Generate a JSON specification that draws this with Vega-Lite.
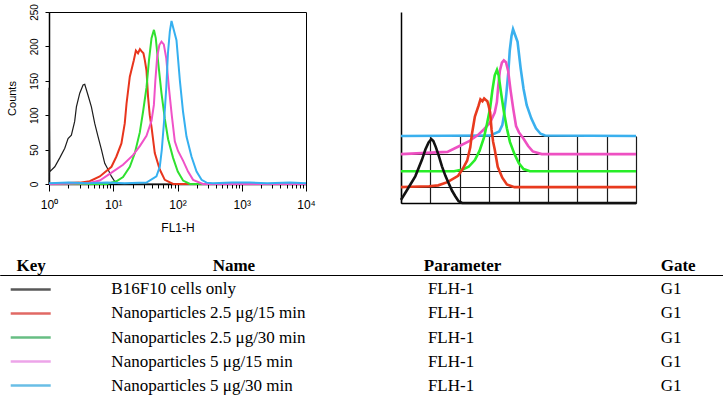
{
  "$schema": "https://vega.github.io/schema/vega-lite/v6.json",
  "background": "white",
  "padding": {"left": 5, "top": 3, "right": 0, "bottom": 0},
  "config": {
    "view": {"stroke": null},
    "axis": {"labelFont": "Liberation Sans", "titleFont": "Liberation Sans", "labelColor": "black", "titleColor": "black", "domainColor": "black", "tickColor": "black", "titleFontWeight": "normal", "grid": false}
  },
  "datasets": {
    "flow": [
      {"series": "B16F10 cells only", "fl1h": 1, "counts": 0},
      {"series": "B16F10 cells only", "fl1h": 1.002, "counts": 140},
      {"series": "B16F10 cells only", "fl1h": 1.03, "counts": 18},
      {"series": "B16F10 cells only", "fl1h": 1.23, "counts": 25},
      {"series": "B16F10 cells only", "fl1h": 1.47, "counts": 38},
      {"series": "B16F10 cells only", "fl1h": 1.76, "counts": 52},
      {"series": "B16F10 cells only", "fl1h": 1.98, "counts": 66},
      {"series": "B16F10 cells only", "fl1h": 2.23, "counts": 71},
      {"series": "B16F10 cells only", "fl1h": 2.51, "counts": 91},
      {"series": "B16F10 cells only", "fl1h": 2.67, "counts": 112},
      {"series": "B16F10 cells only", "fl1h": 3.01, "counts": 132},
      {"series": "B16F10 cells only", "fl1h": 3.39, "counts": 144},
      {"series": "B16F10 cells only", "fl1h": 3.6, "counts": 145},
      {"series": "B16F10 cells only", "fl1h": 4.05, "counts": 129},
      {"series": "B16F10 cells only", "fl1h": 4.57, "counts": 112},
      {"series": "B16F10 cells only", "fl1h": 5.15, "counts": 88},
      {"series": "B16F10 cells only", "fl1h": 5.8, "counts": 69},
      {"series": "B16F10 cells only", "fl1h": 6.55, "counts": 50},
      {"series": "B16F10 cells only", "fl1h": 7.37, "counts": 30},
      {"series": "B16F10 cells only", "fl1h": 8.3, "counts": 21},
      {"series": "B16F10 cells only", "fl1h": 9.38, "counts": 11},
      {"series": "B16F10 cells only", "fl1h": 10.5, "counts": 4},
      {"series": "B16F10 cells only", "fl1h": 11.9, "counts": 0},
      {"series": "B16F10 cells only", "fl1h": 10000, "counts": 0},

      {"series": "Nanoparticles 2.5 μg/15 min", "fl1h": 1, "counts": 0},
      {"series": "Nanoparticles 2.5 μg/15 min", "fl1h": 1.47, "counts": 1},
      {"series": "Nanoparticles 2.5 μg/15 min", "fl1h": 3, "counts": 2},
      {"series": "Nanoparticles 2.5 μg/15 min", "fl1h": 4.3, "counts": 4},
      {"series": "Nanoparticles 2.5 μg/15 min", "fl1h": 6.17, "counts": 11},
      {"series": "Nanoparticles 2.5 μg/15 min", "fl1h": 9.38, "counts": 25},
      {"series": "Nanoparticles 2.5 μg/15 min", "fl1h": 11.2, "counts": 40},
      {"series": "Nanoparticles 2.5 μg/15 min", "fl1h": 13.4, "counts": 59},
      {"series": "Nanoparticles 2.5 μg/15 min", "fl1h": 15.1, "counts": 88},
      {"series": "Nanoparticles 2.5 μg/15 min", "fl1h": 16.1, "counts": 117},
      {"series": "Nanoparticles 2.5 μg/15 min", "fl1h": 18.1, "counts": 156},
      {"series": "Nanoparticles 2.5 μg/15 min", "fl1h": 20.9, "counts": 180},
      {"series": "Nanoparticles 2.5 μg/15 min", "fl1h": 22.5, "counts": 194},
      {"series": "Nanoparticles 2.5 μg/15 min", "fl1h": 24.3, "counts": 190},
      {"series": "Nanoparticles 2.5 μg/15 min", "fl1h": 26, "counts": 196},
      {"series": "Nanoparticles 2.5 μg/15 min", "fl1h": 27.5, "counts": 193},
      {"series": "Nanoparticles 2.5 μg/15 min", "fl1h": 29.5, "counts": 190},
      {"series": "Nanoparticles 2.5 μg/15 min", "fl1h": 31, "counts": 180},
      {"series": "Nanoparticles 2.5 μg/15 min", "fl1h": 32.9, "counts": 165},
      {"series": "Nanoparticles 2.5 μg/15 min", "fl1h": 34.8, "counts": 127},
      {"series": "Nanoparticles 2.5 μg/15 min", "fl1h": 37, "counts": 100},
      {"series": "Nanoparticles 2.5 μg/15 min", "fl1h": 39.4, "counts": 83},
      {"series": "Nanoparticles 2.5 μg/15 min", "fl1h": 44.3, "counts": 45},
      {"series": "Nanoparticles 2.5 μg/15 min", "fl1h": 53, "counts": 21},
      {"series": "Nanoparticles 2.5 μg/15 min", "fl1h": 63.4, "counts": 6},
      {"series": "Nanoparticles 2.5 μg/15 min", "fl1h": 85.4, "counts": 0},
      {"series": "Nanoparticles 2.5 μg/15 min", "fl1h": 10000, "counts": 0},

      {"series": "Nanoparticles 2.5 μg/30 min", "fl1h": 1, "counts": 0},
      {"series": "Nanoparticles 2.5 μg/30 min", "fl1h": 8, "counts": 0},
      {"series": "Nanoparticles 2.5 μg/30 min", "fl1h": 11.2, "counts": 4},
      {"series": "Nanoparticles 2.5 μg/30 min", "fl1h": 14.2, "counts": 10},
      {"series": "Nanoparticles 2.5 μg/30 min", "fl1h": 18.1, "counts": 25},
      {"series": "Nanoparticles 2.5 μg/30 min", "fl1h": 21.7, "counts": 45},
      {"series": "Nanoparticles 2.5 μg/30 min", "fl1h": 25.9, "counts": 75},
      {"series": "Nanoparticles 2.5 μg/30 min", "fl1h": 29.1, "counts": 105},
      {"series": "Nanoparticles 2.5 μg/30 min", "fl1h": 32.9, "counts": 140},
      {"series": "Nanoparticles 2.5 μg/30 min", "fl1h": 36, "counts": 180},
      {"series": "Nanoparticles 2.5 μg/30 min", "fl1h": 39.4, "counts": 212},
      {"series": "Nanoparticles 2.5 μg/30 min", "fl1h": 43, "counts": 224},
      {"series": "Nanoparticles 2.5 μg/30 min", "fl1h": 45.9, "counts": 212},
      {"series": "Nanoparticles 2.5 μg/30 min", "fl1h": 49.9, "counts": 178},
      {"series": "Nanoparticles 2.5 μg/30 min", "fl1h": 56.3, "counts": 132},
      {"series": "Nanoparticles 2.5 μg/30 min", "fl1h": 63.4, "counts": 95},
      {"series": "Nanoparticles 2.5 μg/30 min", "fl1h": 71.4, "counts": 65},
      {"series": "Nanoparticles 2.5 μg/30 min", "fl1h": 85.4, "counts": 38},
      {"series": "Nanoparticles 2.5 μg/30 min", "fl1h": 101, "counts": 18},
      {"series": "Nanoparticles 2.5 μg/30 min", "fl1h": 122, "counts": 5},
      {"series": "Nanoparticles 2.5 μg/30 min", "fl1h": 156, "counts": 0},
      {"series": "Nanoparticles 2.5 μg/30 min", "fl1h": 10000, "counts": 0},

      {"series": "Nanoparticles 5 μg/15 min", "fl1h": 1, "counts": 0},
      {"series": "Nanoparticles 5 μg/15 min", "fl1h": 4, "counts": 1},
      {"series": "Nanoparticles 5 μg/15 min", "fl1h": 6.17, "counts": 5},
      {"series": "Nanoparticles 5 μg/15 min", "fl1h": 9.9, "counts": 18},
      {"series": "Nanoparticles 5 μg/15 min", "fl1h": 14.2, "counts": 28},
      {"series": "Nanoparticles 5 μg/15 min", "fl1h": 20.3, "counts": 42},
      {"series": "Nanoparticles 5 μg/15 min", "fl1h": 25.9, "counts": 55},
      {"series": "Nanoparticles 5 μg/15 min", "fl1h": 32.9, "counts": 70},
      {"series": "Nanoparticles 5 μg/15 min", "fl1h": 39.4, "counts": 92},
      {"series": "Nanoparticles 5 μg/15 min", "fl1h": 42.9, "counts": 115},
      {"series": "Nanoparticles 5 μg/15 min", "fl1h": 45.2, "counts": 150},
      {"series": "Nanoparticles 5 μg/15 min", "fl1h": 48.3, "counts": 185},
      {"series": "Nanoparticles 5 μg/15 min", "fl1h": 52.2, "counts": 202},
      {"series": "Nanoparticles 5 μg/15 min", "fl1h": 56.3, "counts": 207},
      {"series": "Nanoparticles 5 μg/15 min", "fl1h": 61.2, "counts": 203},
      {"series": "Nanoparticles 5 μg/15 min", "fl1h": 66.8, "counts": 183},
      {"series": "Nanoparticles 5 μg/15 min", "fl1h": 73.3, "counts": 141},
      {"series": "Nanoparticles 5 μg/15 min", "fl1h": 81.4, "counts": 100},
      {"series": "Nanoparticles 5 μg/15 min", "fl1h": 90.8, "counts": 62},
      {"series": "Nanoparticles 5 μg/15 min", "fl1h": 101.9, "counts": 48},
      {"series": "Nanoparticles 5 μg/15 min", "fl1h": 122, "counts": 34},
      {"series": "Nanoparticles 5 μg/15 min", "fl1h": 146, "counts": 18},
      {"series": "Nanoparticles 5 μg/15 min", "fl1h": 175, "counts": 6},
      {"series": "Nanoparticles 5 μg/15 min", "fl1h": 248, "counts": 0},
      {"series": "Nanoparticles 5 μg/15 min", "fl1h": 10000, "counts": 0},

      {"series": "Nanoparticles 5 μg/30 min", "fl1h": 1, "counts": 1},
      {"series": "Nanoparticles 5 μg/30 min", "fl1h": 2, "counts": 2},
      {"series": "Nanoparticles 5 μg/30 min", "fl1h": 4, "counts": 1},
      {"series": "Nanoparticles 5 μg/30 min", "fl1h": 8, "counts": 2},
      {"series": "Nanoparticles 5 μg/30 min", "fl1h": 15, "counts": 1},
      {"series": "Nanoparticles 5 μg/30 min", "fl1h": 32.9, "counts": 2},
      {"series": "Nanoparticles 5 μg/30 min", "fl1h": 47, "counts": 11},
      {"series": "Nanoparticles 5 μg/30 min", "fl1h": 53, "counts": 25},
      {"series": "Nanoparticles 5 μg/30 min", "fl1h": 57, "counts": 50},
      {"series": "Nanoparticles 5 μg/30 min", "fl1h": 62, "counts": 93},
      {"series": "Nanoparticles 5 μg/30 min", "fl1h": 67, "counts": 141},
      {"series": "Nanoparticles 5 μg/30 min", "fl1h": 71, "counts": 190},
      {"series": "Nanoparticles 5 μg/30 min", "fl1h": 76, "counts": 222},
      {"series": "Nanoparticles 5 μg/30 min", "fl1h": 80.7, "counts": 237},
      {"series": "Nanoparticles 5 μg/30 min", "fl1h": 85.4, "counts": 228},
      {"series": "Nanoparticles 5 μg/30 min", "fl1h": 96.4, "counts": 209},
      {"series": "Nanoparticles 5 μg/30 min", "fl1h": 109, "counts": 150},
      {"series": "Nanoparticles 5 μg/30 min", "fl1h": 122, "counts": 105},
      {"series": "Nanoparticles 5 μg/30 min", "fl1h": 138, "counts": 69},
      {"series": "Nanoparticles 5 μg/30 min", "fl1h": 165, "counts": 40},
      {"series": "Nanoparticles 5 μg/30 min", "fl1h": 198, "counts": 18},
      {"series": "Nanoparticles 5 μg/30 min", "fl1h": 237, "counts": 6},
      {"series": "Nanoparticles 5 μg/30 min", "fl1h": 283, "counts": 2},
      {"series": "Nanoparticles 5 μg/30 min", "fl1h": 355, "counts": 1},
      {"series": "Nanoparticles 5 μg/30 min", "fl1h": 700, "counts": 2},
      {"series": "Nanoparticles 5 μg/30 min", "fl1h": 1336, "counts": 2},
      {"series": "Nanoparticles 5 μg/30 min", "fl1h": 2500, "counts": 1},
      {"series": "Nanoparticles 5 μg/30 min", "fl1h": 5610, "counts": 2},
      {"series": "Nanoparticles 5 μg/30 min", "fl1h": 10000, "counts": 1}
    ],
    "overlay": [
      {"series": "Nanoparticles 5 μg/30 min", "fl1h": 1, "trace": 148},
      {"series": "Nanoparticles 5 μg/30 min", "fl1h": 32.9, "trace": 149},
      {"series": "Nanoparticles 5 μg/30 min", "fl1h": 47, "trace": 158},
      {"series": "Nanoparticles 5 μg/30 min", "fl1h": 53, "trace": 172},
      {"series": "Nanoparticles 5 μg/30 min", "fl1h": 57, "trace": 197},
      {"series": "Nanoparticles 5 μg/30 min", "fl1h": 62, "trace": 240},
      {"series": "Nanoparticles 5 μg/30 min", "fl1h": 67, "trace": 288},
      {"series": "Nanoparticles 5 μg/30 min", "fl1h": 71, "trace": 337},
      {"series": "Nanoparticles 5 μg/30 min", "fl1h": 76, "trace": 369},
      {"series": "Nanoparticles 5 μg/30 min", "fl1h": 80.7, "trace": 384},
      {"series": "Nanoparticles 5 μg/30 min", "fl1h": 85.4, "trace": 375},
      {"series": "Nanoparticles 5 μg/30 min", "fl1h": 96.4, "trace": 356},
      {"series": "Nanoparticles 5 μg/30 min", "fl1h": 109, "trace": 297},
      {"series": "Nanoparticles 5 μg/30 min", "fl1h": 122, "trace": 252},
      {"series": "Nanoparticles 5 μg/30 min", "fl1h": 138, "trace": 216},
      {"series": "Nanoparticles 5 μg/30 min", "fl1h": 165, "trace": 187},
      {"series": "Nanoparticles 5 μg/30 min", "fl1h": 198, "trace": 165},
      {"series": "Nanoparticles 5 μg/30 min", "fl1h": 237, "trace": 153},
      {"series": "Nanoparticles 5 μg/30 min", "fl1h": 283, "trace": 149},
      {"series": "Nanoparticles 5 μg/30 min", "fl1h": 10000, "trace": 148},

      {"series": "Nanoparticles 5 μg/15 min", "fl1h": 1, "trace": 108},
      {"series": "Nanoparticles 5 μg/15 min", "fl1h": 6.17, "trace": 113},
      {"series": "Nanoparticles 5 μg/15 min", "fl1h": 9.9, "trace": 126},
      {"series": "Nanoparticles 5 μg/15 min", "fl1h": 14.2, "trace": 136},
      {"series": "Nanoparticles 5 μg/15 min", "fl1h": 20.3, "trace": 150},
      {"series": "Nanoparticles 5 μg/15 min", "fl1h": 25.9, "trace": 163},
      {"series": "Nanoparticles 5 μg/15 min", "fl1h": 32.9, "trace": 178},
      {"series": "Nanoparticles 5 μg/15 min", "fl1h": 39.4, "trace": 200},
      {"series": "Nanoparticles 5 μg/15 min", "fl1h": 42.9, "trace": 223},
      {"series": "Nanoparticles 5 μg/15 min", "fl1h": 45.2, "trace": 258},
      {"series": "Nanoparticles 5 μg/15 min", "fl1h": 48.3, "trace": 293},
      {"series": "Nanoparticles 5 μg/15 min", "fl1h": 52.2, "trace": 310},
      {"series": "Nanoparticles 5 μg/15 min", "fl1h": 56.3, "trace": 315},
      {"series": "Nanoparticles 5 μg/15 min", "fl1h": 61.2, "trace": 311},
      {"series": "Nanoparticles 5 μg/15 min", "fl1h": 66.8, "trace": 291},
      {"series": "Nanoparticles 5 μg/15 min", "fl1h": 73.3, "trace": 249},
      {"series": "Nanoparticles 5 μg/15 min", "fl1h": 81.4, "trace": 208},
      {"series": "Nanoparticles 5 μg/15 min", "fl1h": 90.8, "trace": 170},
      {"series": "Nanoparticles 5 μg/15 min", "fl1h": 101.9, "trace": 156},
      {"series": "Nanoparticles 5 μg/15 min", "fl1h": 122, "trace": 142},
      {"series": "Nanoparticles 5 μg/15 min", "fl1h": 146, "trace": 126},
      {"series": "Nanoparticles 5 μg/15 min", "fl1h": 175, "trace": 114},
      {"series": "Nanoparticles 5 μg/15 min", "fl1h": 248, "trace": 108},
      {"series": "Nanoparticles 5 μg/15 min", "fl1h": 10000, "trace": 108},

      {"series": "Nanoparticles 2.5 μg/30 min", "fl1h": 1, "trace": 70},
      {"series": "Nanoparticles 2.5 μg/30 min", "fl1h": 8, "trace": 70},
      {"series": "Nanoparticles 2.5 μg/30 min", "fl1h": 11.2, "trace": 74},
      {"series": "Nanoparticles 2.5 μg/30 min", "fl1h": 14.2, "trace": 80},
      {"series": "Nanoparticles 2.5 μg/30 min", "fl1h": 18.1, "trace": 95},
      {"series": "Nanoparticles 2.5 μg/30 min", "fl1h": 21.7, "trace": 115},
      {"series": "Nanoparticles 2.5 μg/30 min", "fl1h": 25.9, "trace": 145},
      {"series": "Nanoparticles 2.5 μg/30 min", "fl1h": 29.1, "trace": 175},
      {"series": "Nanoparticles 2.5 μg/30 min", "fl1h": 32.9, "trace": 210},
      {"series": "Nanoparticles 2.5 μg/30 min", "fl1h": 36, "trace": 250},
      {"series": "Nanoparticles 2.5 μg/30 min", "fl1h": 39.4, "trace": 282},
      {"series": "Nanoparticles 2.5 μg/30 min", "fl1h": 43, "trace": 294},
      {"series": "Nanoparticles 2.5 μg/30 min", "fl1h": 45.9, "trace": 282},
      {"series": "Nanoparticles 2.5 μg/30 min", "fl1h": 49.9, "trace": 248},
      {"series": "Nanoparticles 2.5 μg/30 min", "fl1h": 56.3, "trace": 202},
      {"series": "Nanoparticles 2.5 μg/30 min", "fl1h": 63.4, "trace": 165},
      {"series": "Nanoparticles 2.5 μg/30 min", "fl1h": 71.4, "trace": 135},
      {"series": "Nanoparticles 2.5 μg/30 min", "fl1h": 85.4, "trace": 108},
      {"series": "Nanoparticles 2.5 μg/30 min", "fl1h": 101, "trace": 88},
      {"series": "Nanoparticles 2.5 μg/30 min", "fl1h": 122, "trace": 75},
      {"series": "Nanoparticles 2.5 μg/30 min", "fl1h": 156, "trace": 70},
      {"series": "Nanoparticles 2.5 μg/30 min", "fl1h": 10000, "trace": 70},

      {"series": "Nanoparticles 2.5 μg/15 min", "fl1h": 1, "trace": 35},
      {"series": "Nanoparticles 2.5 μg/15 min", "fl1h": 1.47, "trace": 36},
      {"series": "Nanoparticles 2.5 μg/15 min", "fl1h": 3, "trace": 37},
      {"series": "Nanoparticles 2.5 μg/15 min", "fl1h": 4.3, "trace": 39},
      {"series": "Nanoparticles 2.5 μg/15 min", "fl1h": 6.17, "trace": 46},
      {"series": "Nanoparticles 2.5 μg/15 min", "fl1h": 9.38, "trace": 60},
      {"series": "Nanoparticles 2.5 μg/15 min", "fl1h": 11.2, "trace": 75},
      {"series": "Nanoparticles 2.5 μg/15 min", "fl1h": 13.4, "trace": 94},
      {"series": "Nanoparticles 2.5 μg/15 min", "fl1h": 15.1, "trace": 123},
      {"series": "Nanoparticles 2.5 μg/15 min", "fl1h": 16.1, "trace": 152},
      {"series": "Nanoparticles 2.5 μg/15 min", "fl1h": 18.1, "trace": 191},
      {"series": "Nanoparticles 2.5 μg/15 min", "fl1h": 20.9, "trace": 215},
      {"series": "Nanoparticles 2.5 μg/15 min", "fl1h": 22.5, "trace": 229},
      {"series": "Nanoparticles 2.5 μg/15 min", "fl1h": 24.3, "trace": 225},
      {"series": "Nanoparticles 2.5 μg/15 min", "fl1h": 26, "trace": 231},
      {"series": "Nanoparticles 2.5 μg/15 min", "fl1h": 27.5, "trace": 228},
      {"series": "Nanoparticles 2.5 μg/15 min", "fl1h": 29.5, "trace": 225},
      {"series": "Nanoparticles 2.5 μg/15 min", "fl1h": 31, "trace": 215},
      {"series": "Nanoparticles 2.5 μg/15 min", "fl1h": 32.9, "trace": 200},
      {"series": "Nanoparticles 2.5 μg/15 min", "fl1h": 34.8, "trace": 162},
      {"series": "Nanoparticles 2.5 μg/15 min", "fl1h": 37, "trace": 135},
      {"series": "Nanoparticles 2.5 μg/15 min", "fl1h": 39.4, "trace": 118},
      {"series": "Nanoparticles 2.5 μg/15 min", "fl1h": 44.3, "trace": 80},
      {"series": "Nanoparticles 2.5 μg/15 min", "fl1h": 53, "trace": 56},
      {"series": "Nanoparticles 2.5 μg/15 min", "fl1h": 63.4, "trace": 41},
      {"series": "Nanoparticles 2.5 μg/15 min", "fl1h": 85.4, "trace": 35},
      {"series": "Nanoparticles 2.5 μg/15 min", "fl1h": 10000, "trace": 35},

      {"series": "B16F10 cells only", "fl1h": 1, "trace": 7},
      {"series": "B16F10 cells only", "fl1h": 1.18, "trace": 22},
      {"series": "B16F10 cells only", "fl1h": 1.75, "trace": 59},
      {"series": "B16F10 cells only", "fl1h": 2.28, "trace": 96},
      {"series": "B16F10 cells only", "fl1h": 2.6, "trace": 118},
      {"series": "B16F10 cells only", "fl1h": 2.95, "trace": 134},
      {"series": "B16F10 cells only", "fl1h": 3.28, "trace": 141},
      {"series": "B16F10 cells only", "fl1h": 3.55, "trace": 137},
      {"series": "B16F10 cells only", "fl1h": 3.9, "trace": 124},
      {"series": "B16F10 cells only", "fl1h": 4.4, "trace": 104},
      {"series": "B16F10 cells only", "fl1h": 4.98, "trace": 81},
      {"series": "B16F10 cells only", "fl1h": 5.7, "trace": 60},
      {"series": "B16F10 cells only", "fl1h": 6.45, "trace": 44},
      {"series": "B16F10 cells only", "fl1h": 7.4, "trace": 27},
      {"series": "B16F10 cells only", "fl1h": 8.4, "trace": 15},
      {"series": "B16F10 cells only", "fl1h": 9.55, "trace": 4},
      {"series": "B16F10 cells only", "fl1h": 11, "trace": 0},
      {"series": "B16F10 cells only", "fl1h": 10000, "trace": 0}
    ],
    "table": [
      {"name": "B16F10 cells only", "parameter": "FLH-1", "gate": "G1"},
      {"name": "Nanoparticles 2.5 μg/15 min", "parameter": "FLH-1", "gate": "G1"},
      {"name": "Nanoparticles 2.5 μg/30 min", "parameter": "FLH-1", "gate": "G1"},
      {"name": "Nanoparticles 5 μg/15 min", "parameter": "FLH-1", "gate": "G1"},
      {"name": "Nanoparticles 5 μg/30 min", "parameter": "FLH-1", "gate": "G1"}
    ]
  },
  "resolve": {"scale": {"color": "independent"}},
  "spacing": 22,
  "vconcat": [
    {
      "bounds": "flush",
      "spacing": 95,
      "resolve": {"scale": {"color": "independent"}},
      "hconcat": [
        {
          "width": 257,
          "height": 172,
          "view": {"stroke": "black", "strokeWidth": 1},
          "data": {"name": "flow"},
          "encoding": {
            "x": {
              "field": "fl1h", "type": "quantitative",
              "scale": {"type": "log", "domain": [1, 10000], "nice": false},
              "axis": {
                "values": [1,2,3,4,5,6,7,8,9,10,20,30,40,50,60,70,80,90,100,200,300,400,500,600,700,800,900,1000,2000,3000,4000,5000,6000,7000,8000,9000,10000],
                "labelExpr": "datum.value == 1 ? '10⁰' : datum.value == 10 ? '10¹' : datum.value == 100 ? '10²' : datum.value == 1000 ? '10³' : datum.value == 10000 ? '10⁴' : ''",
                "tickSize": {"condition": {"test": "datum.value == 1 || datum.value == 10 || datum.value == 100 || datum.value == 1000 || datum.value == 10000", "value": 7}, "value": 4},
                "labelOverlap": false,
                "labelFlush": false,
                "labelFontSize": 12,
                "labelPadding": 8,
                "domainWidth": 1.5,
                "title": "FL1-H",
                "titleFontSize": 12,
                "titlePadding": 12
              }
            },
            "y": {
              "field": "counts", "type": "quantitative",
              "scale": {"domain": [0, 250], "nice": false},
              "axis": {
                "values": [0, 50, 100, 150, 200, 250],
                "labelAngle": 270,
                "labelAlign": "center",
                "labelBaseline": "alphabetic",
                "labelFontSize": 10,
                "tickSize": 4,
                "labelPadding": 8,
                "domainWidth": 1.5,
                "title": "Counts",
                "titleFontSize": 11,
                "titlePadding": 12
              }
            }
          },
          "layer": [
            {
              "transform": [{"filter": "datum.series == 'B16F10 cells only'"}],
              "mark": {"type": "line", "color": "#1c1c1c", "strokeWidth": 1.2}
            },
            {
              "transform": [{"filter": "datum.series != 'B16F10 cells only'"}],
              "mark": {"type": "line", "strokeWidth": 2},
              "encoding": {
                "color": {
                  "field": "series", "type": "nominal",
                  "scale": {
                    "domain": ["Nanoparticles 2.5 μg/15 min", "Nanoparticles 2.5 μg/30 min", "Nanoparticles 5 μg/15 min", "Nanoparticles 5 μg/30 min"],
                    "range": ["#e8351d", "#30e030", "#f052c8", "#35b0f0"]
                  },
                  "legend": null
                }
              }
            }
          ]
        },
        {
          "width": 235,
          "height": 191,
          "view": {"stroke": null},
          "data": {"name": "overlay"},
          "mark": {"type": "line", "strokeWidth": 2.6},
          "encoding": {
            "x": {
              "field": "fl1h", "type": "quantitative",
              "scale": {"type": "log", "domain": [1, 10000], "nice": false},
              "axis": {
                "values": [1, 3.1623, 10, 31.623, 100, 316.23, 1000, 3162.3, 10000],
                "labels": false,
                "tickSize": -66.6,
                "tickWidth": 1.2,
                "tickColor": "#1a1a1a",
                "domainWidth": 1.5,
                "title": null
              }
            },
            "y": {
              "field": "trace", "type": "quantitative",
              "scale": {"domain": [0, 422], "nice": false},
              "axis": {
                "values": [0, 35, 70, 108, 147],
                "grid": true,
                "gridColor": "#1a1a1a",
                "gridWidth": 1.2,
                "gridOpacity": 1,
                "ticks": false,
                "labels": false,
                "domainWidth": 1.5,
                "title": null
              }
            },
            "color": {
              "field": "series", "type": "nominal",
              "scale": {
                "domain": ["Nanoparticles 5 μg/30 min", "Nanoparticles 5 μg/15 min", "Nanoparticles 2.5 μg/30 min", "Nanoparticles 2.5 μg/15 min", "B16F10 cells only"],
                "range": ["#3ab0ee", "#ee50c2", "#28ee28", "#e83a1e", "#111111"]
              },
              "legend": null
            }
          }
        }
      ]
    },
    {
      "width": 674,
      "height": 125,
      "view": {"stroke": null},
      "data": {"name": "table"},
      "encoding": {
        "y": {"field": "name", "type": "nominal", "sort": null, "scale": {"type": "point", "padding": 0.6}, "axis": null}
      },
      "layer": [
        {
          "mark": {"type": "tick", "orient": "horizontal", "size": 40, "thickness": 2.5},
          "encoding": {
            "x": {
              "datum": "Key", "type": "nominal",
              "scale": {"type": "point", "domain": ["Key", "Name", "Parameter", "Gate"], "range": [-49.3, 673.7], "padding": 0.1762, "align": 0.408},
              "axis": {
                "orient": "top",
                "title": null,
                "ticks": false,
                "domain": true,
                "domainColor": "black",
                "domainWidth": 1.2,
                "labelFont": "Liberation Serif",
                "labelFontWeight": "bold",
                "labelFontSize": 17,
                "labelColor": "black",
                "labelPadding": 5,
                "labelBaseline": "alphabetic",
                "labelAngle": 0,
                "labelOffset": {"condition": {"test": "datum.value == 'Name'", "value": -13}, "value": 0}
              }
            },
            "color": {
              "field": "name", "type": "nominal",
              "scale": {
                "domain": ["B16F10 cells only", "Nanoparticles 2.5 μg/15 min", "Nanoparticles 2.5 μg/30 min", "Nanoparticles 5 μg/15 min", "Nanoparticles 5 μg/30 min"],
                "range": ["#111111", "#d42a22", "#26a34f", "#e57de0", "#2aa3dc"]
              },
              "legend": null
            }
          }
        },
        {
          "mark": {"type": "text", "align": "left", "dx": -135, "font": "Liberation Serif", "fontSize": 17, "color": "black"},
          "encoding": {"x": {"datum": "Name", "type": "nominal"}, "text": {"field": "name"}}
        },
        {
          "mark": {"type": "text", "align": "center", "dx": -11, "font": "Liberation Serif", "fontSize": 17, "color": "black"},
          "encoding": {"x": {"datum": "Parameter", "type": "nominal"}, "text": {"field": "parameter"}}
        },
        {
          "mark": {"type": "text", "align": "center", "dx": -6.5, "font": "Liberation Serif", "fontSize": 17, "color": "black"},
          "encoding": {"x": {"datum": "Gate", "type": "nominal"}, "text": {"field": "gate"}}
        }
      ]
    }
  ]
}
